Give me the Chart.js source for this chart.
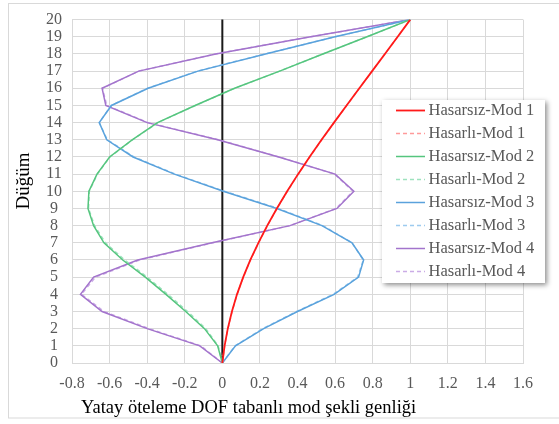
<!DOCTYPE html>
<html>
<head>
<meta charset="utf-8">
<script src="https://cdn.jsdelivr.net/npm/chart.js@4.4.1/dist/chart.umd.min.js"></script>
<style>
  html, body { margin: 0; padding: 0; background: #fff; overflow: hidden; }
  #wrap { position: relative; width: 559px; height: 424px; }
</style>
</head>
<body>
<div id="wrap"><canvas id="c" width="559" height="424"></canvas></div>
<script>
// ---- data ----
const nodes = [0,1,2,3,4,5,6,7,8,9,10,11,12,13,14,15,16,17,18,19,20];
const labels = ["Hasarsız-Mod 1","Hasarlı-Mod 1","Hasarsız-Mod 2","Hasarlı-Mod 2","Hasarsız-Mod 3","Hasarlı-Mod 3","Hasarsız-Mod 4","Hasarlı-Mod 4"];
const mod1Hasarsiz = [0,0.012,0.029,0.051,0.078,0.111,0.149,0.192,0.239,0.29,0.345,0.403,0.464,0.528,0.594,0.661,0.729,0.797,0.865,0.933,1];
const mod1Hasarli  = [0,0.012,0.03,0.052,0.079,0.112,0.15,0.193,0.24,0.291,0.346,0.404,0.465,0.529,0.595,0.662,0.729,0.797,0.865,0.933,1];
const mod2Hasarsiz = [0,-0.025,-0.095,-0.195,-0.30,-0.41,-0.53,-0.63,-0.685,-0.715,-0.71,-0.667,-0.60,-0.48,-0.345,-0.145,0.065,0.305,0.535,0.77,1];
const mod2Hasarli  = [0,-0.022,-0.088,-0.185,-0.29,-0.40,-0.52,-0.622,-0.68,-0.712,-0.708,-0.665,-0.598,-0.478,-0.343,-0.143,0.066,0.305,0.535,0.77,1];
const mod3Hasarsiz = [0,0.07,0.22,0.40,0.595,0.725,0.752,0.69,0.53,0.29,0.005,-0.255,-0.475,-0.615,-0.655,-0.59,-0.395,-0.13,0.23,0.6,1];
const mod3Hasarli  = [0,0.068,0.215,0.395,0.59,0.72,0.75,0.69,0.535,0.298,0.012,-0.25,-0.47,-0.612,-0.655,-0.592,-0.398,-0.133,0.228,0.6,1];
const mod4Hasarsiz = [0,-0.12,-0.40,-0.64,-0.755,-0.685,-0.45,-0.055,0.36,0.61,0.70,0.60,0.30,-0.025,-0.40,-0.62,-0.64,-0.445,-0.035,0.47,1];
const mod4Hasarli  = [0,-0.115,-0.39,-0.63,-0.75,-0.675,-0.44,-0.05,0.36,0.605,0.695,0.598,0.302,-0.02,-0.395,-0.615,-0.638,-0.445,-0.035,0.47,1];
const xTitle = "Yatay öteleme DOF tabanlı mod şekli genliği";
const yTitle = "Düğüm";

const series = [mod1Hasarsiz, mod1Hasarli, mod2Hasarsiz, mod2Hasarli, mod3Hasarsiz, mod3Hasarli, mod4Hasarsiz, mod4Hasarli];
const colors = ['#FF1A1A','#FF9A9A','#55C57E','#9EE2BE','#5AA2DC','#9DCBEF','#A374CC','#CBACE6'];
const widths = [1.8,1.5,1.5,1.5,1.5,1.5,1.5,1.5];
const dashes = [[],[4,3],[],[4,3],[],[4,3],[],[4,3]];

const FONT = "'Liberation Serif', serif";

const datasets = series.map((vals, i) => ({
  label: labels[i],
  data: vals.map((v, k) => ({x: v, y: nodes[k]})),
  showLine: true,
  borderColor: colors[i],
  backgroundColor: colors[i],
  borderWidth: widths[i],
  borderDash: dashes[i],
  pointRadius: 0,
  pointHoverRadius: 0,
  tension: 0,
  fill: false
}));

const decor = {
  id: 'decor',
  beforeDraw(chart) {
    const ctx = chart.ctx;
    ctx.save();
    ctx.fillStyle = '#fff';
    ctx.fillRect(0, 0, chart.width, chart.height);
    ctx.strokeStyle = '#D9D9D9';
    ctx.lineWidth = 1;
    ctx.strokeRect(8.5, 3.5, 600, 414.5);
    ctx.restore();
  },
  beforeDatasetsDraw(chart) {
    const ctx = chart.ctx;
    const a = chart.chartArea;
    const x0 = chart.scales.x.getPixelForValue(0);
    ctx.save();
    ctx.strokeStyle = '#1a1a1a';
    ctx.lineWidth = 2;
    ctx.setLineDash([]);
    ctx.beginPath();
    ctx.moveTo(x0, a.top);
    ctx.lineTo(x0, a.bottom);
    ctx.stroke();
    ctx.restore();
  },
  afterDraw(chart) {
    const ctx = chart.ctx;
    const a = chart.chartArea;
    ctx.save();
    // x title
    ctx.fillStyle = '#000';
    ctx.font = '18.5px ' + FONT;
    ctx.textAlign = 'left';
    ctx.textBaseline = 'alphabetic';
    ctx.fillText(xTitle, a.left + 9, 413);
    // y title
    ctx.save();
    ctx.translate(24.5, 181);
    ctx.rotate(-Math.PI / 2);
    ctx.textAlign = 'center';
    ctx.textBaseline = 'middle';
    ctx.font = '19px ' + FONT;
    ctx.fillText(yTitle, 0, 0);
    ctx.restore();
    // legend
    const bx = 382, by = 100, bw = 163, bh = 183;
    ctx.save();
    ctx.shadowColor = 'rgba(0,0,0,0.45)';
    ctx.shadowBlur = 5;
    ctx.shadowOffsetX = 2;
    ctx.shadowOffsetY = 2;
    ctx.fillStyle = '#fff';
    ctx.fillRect(bx, by, bw, bh);
    ctx.restore();
    chart.data.datasets.forEach((ds, i) => {
      const y = 110.5 + 23 * i;
      ctx.save();
      ctx.strokeStyle = ds.borderColor;
      ctx.lineWidth = ds.borderWidth;
      ctx.setLineDash(ds.borderDash);
      ctx.beginPath();
      ctx.moveTo(396, y);
      ctx.lineTo(425, y);
      ctx.stroke();
      ctx.restore();
      ctx.fillStyle = '#595959';
      ctx.font = '16.5px ' + FONT;
      ctx.textAlign = 'left';
      ctx.textBaseline = 'middle';
      ctx.fillText(ds.label, 428.5, y + 0.5);
    });
    ctx.restore();
  }
};

new Chart(document.getElementById('c'), {
  type: 'scatter',
  data: { datasets },
  options: {
    responsive: false,
    animation: false,
    devicePixelRatio: 1,
    layout: { padding: { left: 0, right: 36, top: 13, bottom: 0 } },
    plugins: { legend: { display: false }, tooltip: { enabled: false } },
    scales: {
      x: {
        type: 'linear', min: -0.8, max: 1.6,
        afterFit(s) { s.height = 61; },
        ticks: {
          stepSize: 0.2, padding: 11, color: '#595959', autoSkip: false, maxRotation: 0,
          font: { family: FONT, size: 16 },
          callback: v => String(Number(v.toFixed(1)))
        },
        grid: { drawTicks: false, color: '#D9D9D9', lineWidth: 1 },
        border: { display: true, color: '#D9D9D9', width: 1 }
      },
      y: {
        type: 'linear', min: 0, max: 20,
        afterFit(s) { s.width = 72; },
        ticks: {
          stepSize: 1, padding: 10, color: '#595959', autoSkip: false, crossAlign: 'center',
          font: { family: FONT, size: 16 }
        },
        grid: { drawTicks: false, color: '#D9D9D9', lineWidth: 1 },
        border: { display: true, color: '#D9D9D9', width: 1 }
      }
    }
  },
  plugins: [decor]
});
</script>
</body>
</html>
